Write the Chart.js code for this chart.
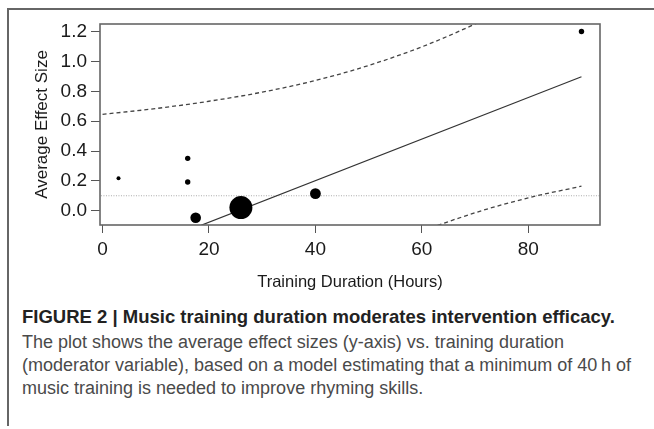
<!DOCTYPE html>
<html><head><meta charset="utf-8">
<script src="https://cdn.jsdelivr.net/npm/chart.js@4/dist/chart.umd.min.js"></script>
<style>
html,body{margin:0;padding:0;background:#fff;width:654px;height:429px;overflow:hidden;font-family:"Liberation Sans",Arial,sans-serif;}
#frame{position:absolute;left:7px;top:8px;width:700px;height:416px;border-top:2px solid #666;border-left:2px solid #666;}
#wrap{position:absolute;left:0;top:0;width:654px;height:300px;}
.cap{position:absolute;left:22px;white-space:nowrap;font-size:18px;line-height:22px;color:#4a4a4a;}
.cap b{color:#222;font-size:18.5px;}
</style></head><body>
<div id="frame"></div>
<div id="wrap"><canvas id="c" width="654" height="300"></canvas></div>
<div class="cap" style="top:306px"><b>FIGURE 2 | Music training duration moderates intervention efficacy.</b></div>
<div class="cap" style="top:331px">The plot shows the average effect sizes (y-axis) vs. training duration</div>
<div class="cap" style="top:354px">(moderator variable), based on a model estimating that a minimum of 40&#8201;h of</div>
<div class="cap" style="top:377px">music training is needed to improve rhyming skills.</div>
<script>
// ---- data ----
const durationHours = [3, 16, 16, 17.5, 26, 40, 90];
const effectSizes   = [0.217, 0.351, 0.192, -0.047, 0.021, 0.114, 1.202];
const studyWeights  = [1.7, 3.1, 3.1, 12.0, 56.5, 12.5, 3.1]; // relative weight (%)
const fitHours  = [0, 90];
const fitEffect = [-0.356, 0.898];
const ciHours = [0, 10, 20, 30, 40, 50, 60, 70, 80, 90];
const ciUpper = [0.646, 0.685, 0.734, 0.795, 0.873, 0.974, 1.099, 1.252, 1.430, 1.632];
const ciLower = [-1.358, -1.119, -0.888, -0.671, -0.471, -0.292, -0.139, -0.014, 0.086, 0.164];
const refHours  = [-5, 100];
const refEffect = [0.1, 0.1];
const xTicks = [0, 20, 40, 60, 80];
const yTicks = [0, 0.2, 0.4, 0.6, 0.8, 1.0, 1.2];

const pts = (xs, ys) => xs.map((x, i) => ({x: x, y: ys[i]}));

Chart.defaults.font.family = '"Liberation Sans", Arial, sans-serif';
Chart.defaults.color = '#1a1a1a';

const boxPlugin = {
  id: 'plotBox',
  afterDatasetsDraw(chart) {
    const a = chart.chartArea, ctx = chart.ctx;
    ctx.save();
    ctx.strokeStyle = '#666';
    ctx.lineWidth = 1.6;
    ctx.strokeRect(a.left, a.top, a.right - a.left, a.bottom - a.top);
    ctx.restore();
  }
};

new Chart(document.getElementById('c'), {
  type: 'scatter',
  data: {
    datasets: [
      {
        data: pts(durationHours, effectSizes),
        backgroundColor: '#000',
        borderWidth: 0,
        pointRadius: studyWeights.map(w => 1.53 * Math.sqrt(w)),
        pointHoverRadius: studyWeights.map(w => 1.53 * Math.sqrt(w))
      },
      {
        data: pts(fitHours, fitEffect),
        showLine: true, pointRadius: 0, borderColor: '#333', borderWidth: 1.2
      },
      {
        data: pts(ciHours, ciUpper),
        showLine: true, pointRadius: 0, borderColor: '#444', borderWidth: 1.3,
        borderDash: [4, 3], cubicInterpolationMode: 'monotone'
      },
      {
        data: pts(ciHours, ciLower),
        showLine: true, pointRadius: 0, borderColor: '#444', borderWidth: 1.3,
        borderDash: [4, 3], cubicInterpolationMode: 'monotone'
      },
      {
        data: pts(refHours, refEffect),
        showLine: true, pointRadius: 0, borderColor: '#aaa', borderWidth: 1.2,
        borderDash: [1, 1.5]
      }
    ]
  },
  options: {
    responsive: false,
    animation: false,
    devicePixelRatio: 1,
    layout: {padding: {left: 0, right: 54, top: 24, bottom: 0}},
    plugins: {legend: {display: false}, tooltip: {enabled: false}},
    scales: {
      x: {
        type: 'linear', min: -0.48, max: 93.48,
        afterBuildTicks: s => { s.ticks = xTicks.map(v => ({value: v})); },
        afterFit: s => { s.height = 75; },
        ticks: {font: {size: 19}, color: '#1a1a1a', padding: 5, callback: v => String(v)},
        grid: {drawOnChartArea: false, drawTicks: true, tickLength: 8, color: '#555', lineWidth: 1},
        border: {display: false},
        title: {display: true, text: 'Training Duration (Hours)', font: {size: 16.5}, color: '#1a1a1a',
                padding: {top: 0, bottom: 8}}
      },
      y: {
        type: 'linear', min: -0.096, max: 1.252,
        afterBuildTicks: s => { s.ticks = yTicks.map(v => ({value: v})); },
        afterFit: s => { s.width = 100; },
        ticks: {font: {size: 19}, color: '#1a1a1a', padding: 4, callback: v => v.toFixed(1)},
        grid: {drawOnChartArea: false, drawTicks: true, tickLength: 9, color: '#555', lineWidth: 1},
        border: {display: false},
        title: {display: true, text: 'Average Effect Size', font: {size: 17}, color: '#1a1a1a',
                padding: {top: 32, bottom: 0}}
      }
    }
  },
  plugins: [boxPlugin]
});
</script>
</body></html>
